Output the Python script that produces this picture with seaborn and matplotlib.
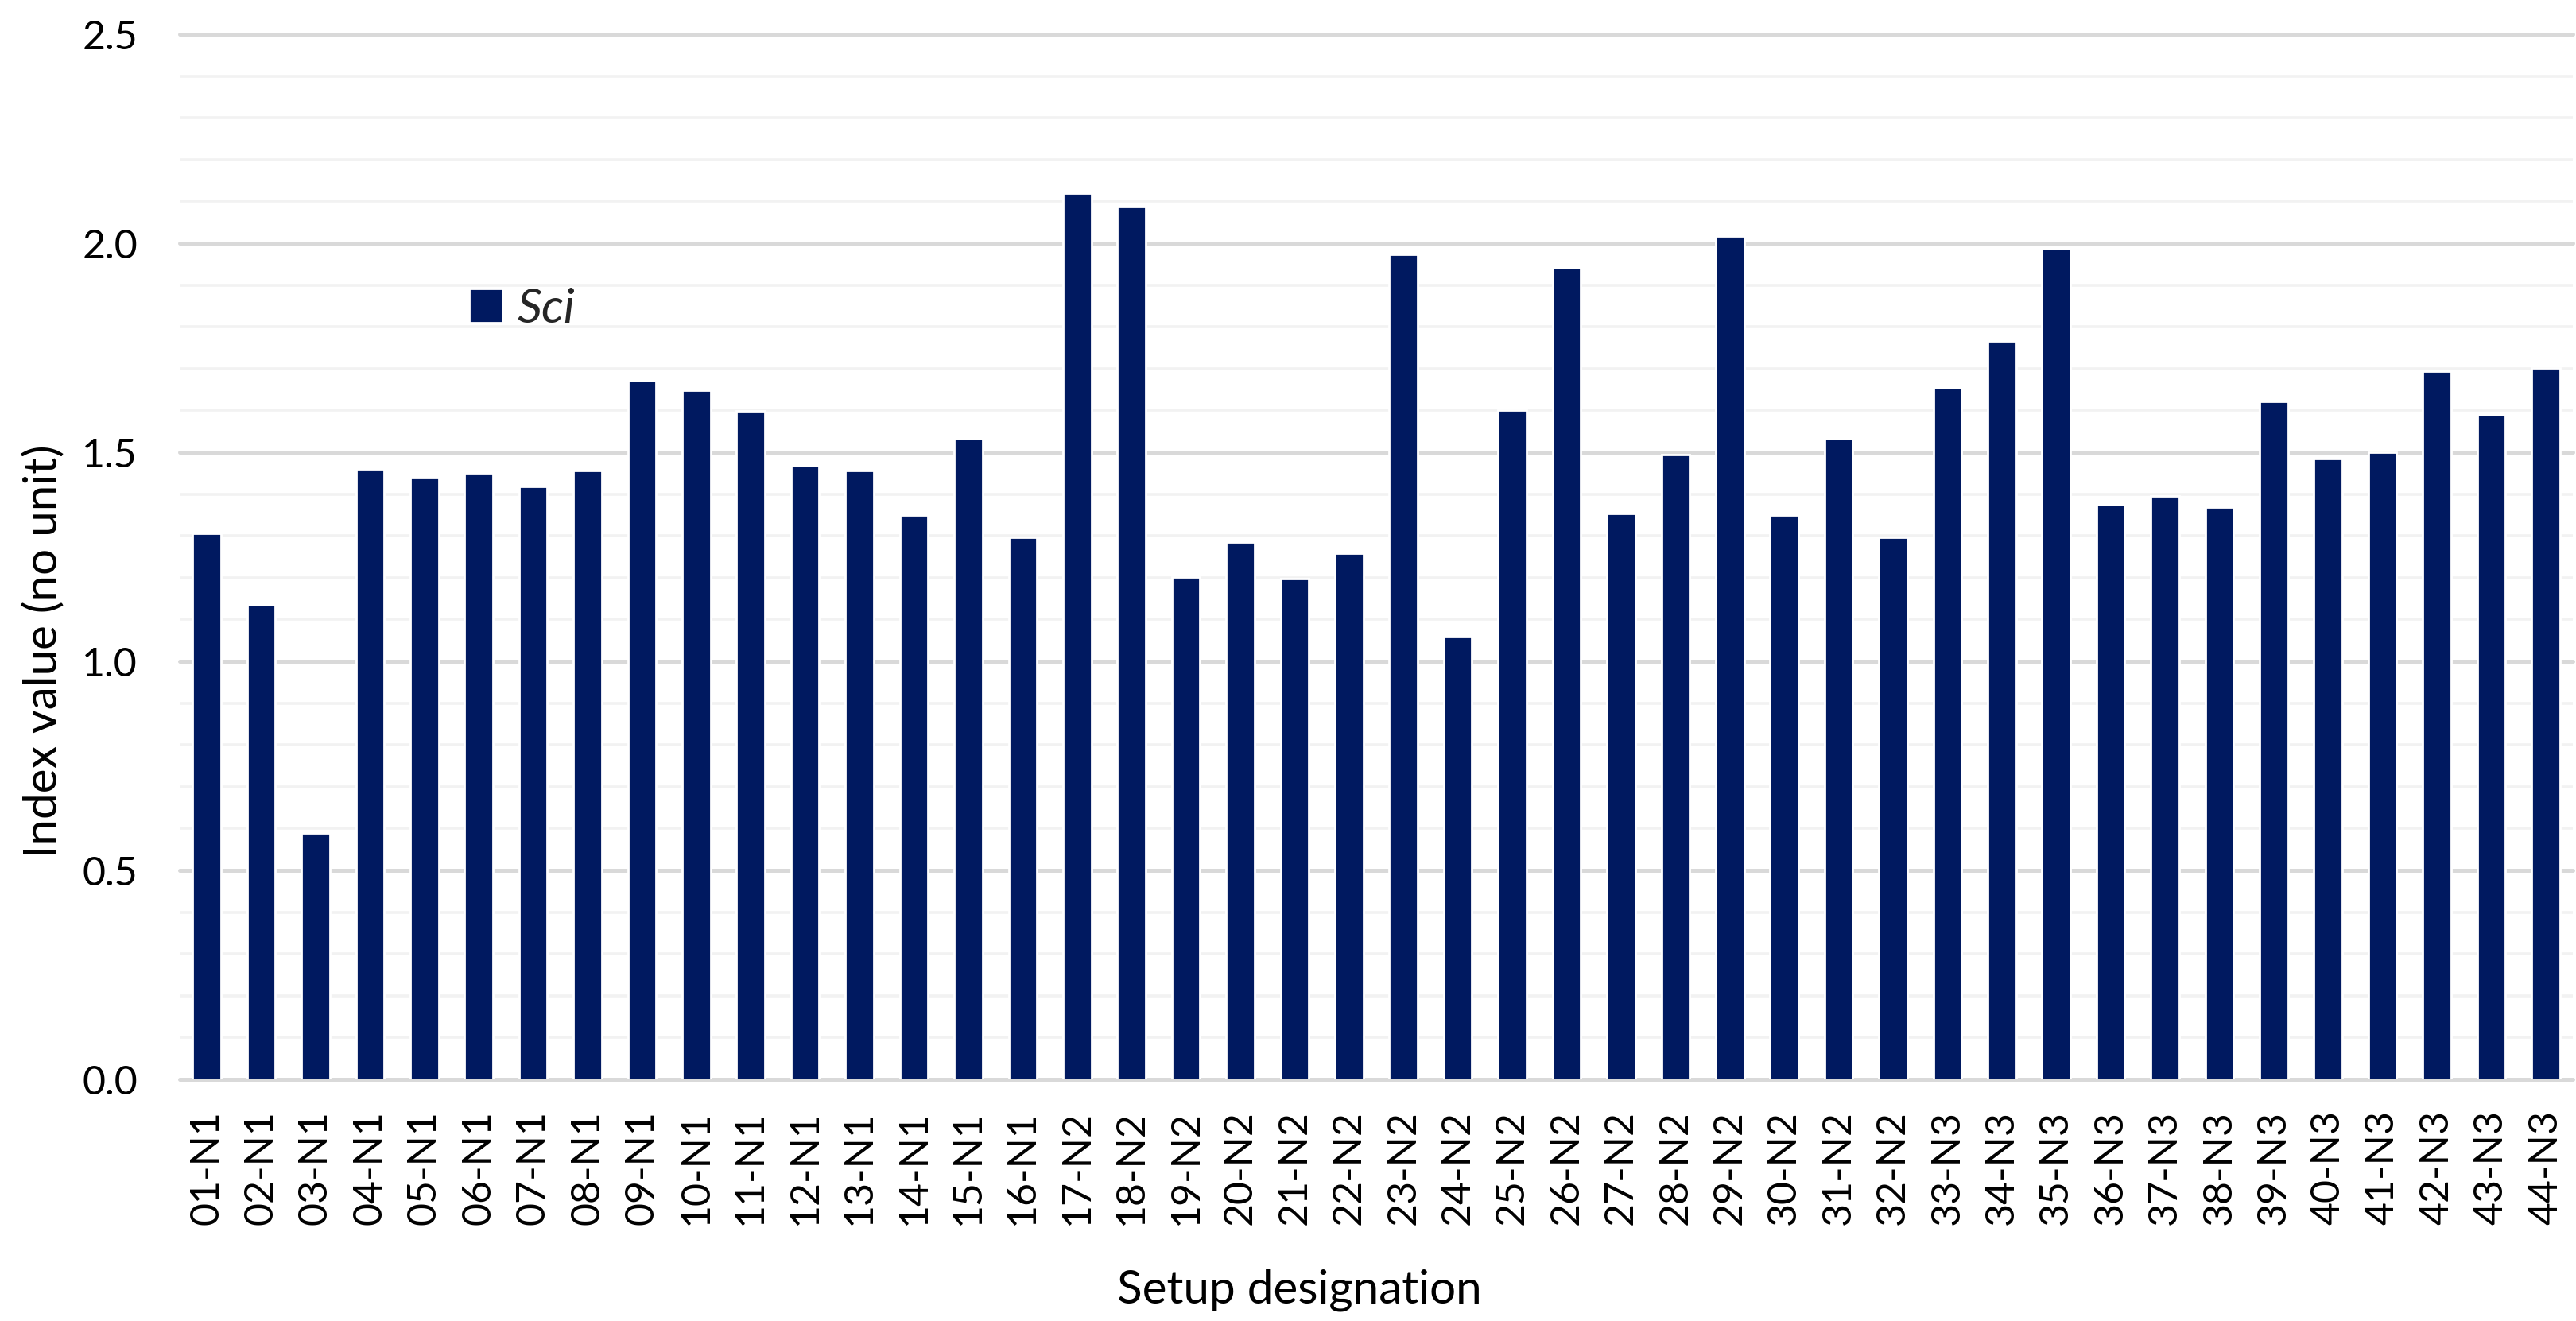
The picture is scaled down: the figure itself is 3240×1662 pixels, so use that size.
import numpy as np
import pandas as pd
import matplotlib
matplotlib.use("Agg")
import matplotlib.pyplot as plt
import seaborn as sns
from matplotlib.ticker import MultipleLocator, FormatStrFormatter

setups = [
    "01-N1", "02-N1", "03-N1", "04-N1", "05-N1", "06-N1", "07-N1", "08-N1",
    "09-N1", "10-N1", "11-N1", "12-N1", "13-N1", "14-N1", "15-N1", "16-N1",
    "17-N2", "18-N2", "19-N2", "20-N2", "21-N2", "22-N2", "23-N2", "24-N2",
    "25-N2", "26-N2", "27-N2", "28-N2", "29-N2", "30-N2", "31-N2", "32-N2",
    "33-N3", "34-N3", "35-N3", "36-N3", "37-N3", "38-N3", "39-N3", "40-N3",
    "41-N3", "42-N3", "43-N3", "44-N3",
]
sci_values = [
    1.307, 1.135, 0.590, 1.460, 1.439, 1.450, 1.418, 1.456,
    1.671, 1.648, 1.598, 1.468, 1.456, 1.350, 1.532, 1.296,
    2.120, 2.088, 1.201, 1.285, 1.197, 1.258, 1.974, 1.059,
    1.600, 1.941, 1.353, 1.494, 2.018, 1.350, 1.532, 1.296,
    1.655, 1.767, 1.986, 1.374, 1.395, 1.368, 1.621, 1.485,
    1.500, 1.694, 1.589, 1.702,
]

BAR_COLOR = "#001960"

sns.set_style("white")
plt.rcParams["font.family"] = ["Lato", "DejaVu Sans"]

df = pd.DataFrame({"setup": setups, "value": sci_values})

fig = plt.figure(figsize=(3241 / 200, 1662 / 200), dpi=200)
ax = fig.add_axes([0.0697, 0.1829, 0.9288, 0.7912])

sns.barplot(data=df, x="setup", y="value", color=BAR_COLOR, saturation=1,
            width=0.52, label="Sci", ax=ax, zorder=3)

ax.set_xlim(-0.5, len(setups) - 0.5)
ax.set_ylim(0, 2.5)
ax.yaxis.set_major_locator(MultipleLocator(0.5))
ax.yaxis.set_minor_locator(MultipleLocator(0.1))
ax.yaxis.set_major_formatter(FormatStrFormatter("%.1f"))

ax.set_axisbelow(True)
ax.grid(axis="y", which="minor", color="#f2f2f2", linewidth=1.3)
ax.grid(axis="y", which="major", color="#d9d9d9", linewidth=1.8)
ax.grid(axis="x", visible=False)
for t in ax.yaxis.get_major_ticks():
    t.gridline.set_clip_on(False)

for s in ax.spines.values():
    s.set_visible(False)

ax.tick_params(axis="y", which="both", length=0, pad=19, labelsize=18, labelcolor="black")
ax.tick_params(axis="x", length=0, pad=14, labelsize=18, labelcolor="black", rotation=90)

ax.set_xlabel("Setup designation", fontsize=21, color="black")
ax.set_ylabel("Index value (no unit)", fontsize=21, color="black")
ax.xaxis.label.set_va("baseline")
ax.xaxis.set_label_coords(0.468, -0.2144)
ax.yaxis.label.set_va("center")
ax.yaxis.set_label_coords(-0.057, 0.41)

leg = ax.legend(loc="center left", bbox_to_anchor=(0.121, 0.737), frameon=False,
                borderpad=0, borderaxespad=0, handlelength=0.69, handleheight=0.69,
                handletextpad=0.3, prop={"size": 22, "style": "italic"})

fig.savefig("out.png", dpi=200, facecolor="white")
